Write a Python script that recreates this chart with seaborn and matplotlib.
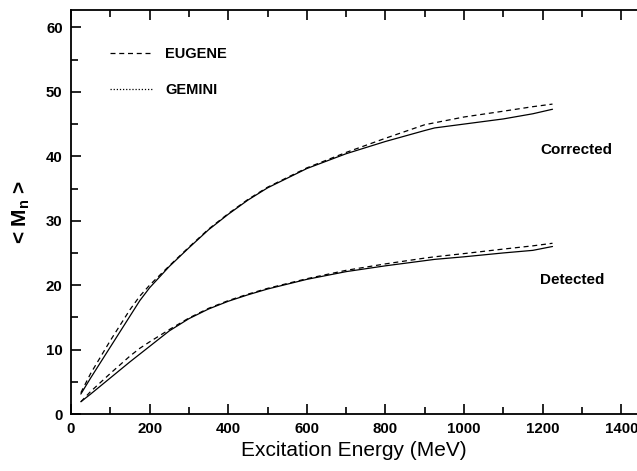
import pandas as pd
import matplotlib.pyplot as plt
import seaborn as sns
from matplotlib.lines import Line2D
from matplotlib.ticker import MultipleLocator

sns.set_theme(style="ticks")
plt.rcParams['font.family'] = ['Liberation Sans', 'DejaVu Sans']
plt.rcParams['text.color'] = 'black'
plt.rcParams['axes.labelcolor'] = 'black'

# --- dados ---
energia = [25, 50, 100, 150, 175, 200, 250, 300, 350, 400, 450, 500, 600, 700, 800, 900, 925, 1000, 1100, 1175, 1225]
corr_gemini = [3.1, 5.6, 10.4, 15.2, 17.6, 19.6, 22.9, 25.8, 28.6, 31.0, 33.2, 35.1, 38.1, 40.4, 42.3, 44.0, 44.4, 45.0, 45.8, 46.6, 47.3]
corr_eugene = [3.3, 6.3, 11.4, 16.2, 18.3, 20.0, 23.0, 25.9, 28.7, 31.1, 33.3, 35.2, 38.2, 40.6, 42.8, 44.9, 45.2, 46.1, 47.0, 47.7, 48.1]
det_gemini = [1.9, 3.1, 5.6, 8.1, 9.3, 10.5, 12.9, 14.8, 16.3, 17.5, 18.5, 19.4, 20.9, 22.1, 23.0, 23.8, 24.0, 24.4, 25.0, 25.4, 26.0]
det_eugene = [1.9, 3.5, 6.3, 9.0, 10.2, 11.2, 13.1, 14.9, 16.4, 17.6, 18.6, 19.5, 21.0, 22.3, 23.3, 24.2, 24.4, 24.9, 25.6, 26.1, 26.5]

df = pd.DataFrame({'E': energia, 'corr_gemini': corr_gemini, 'corr_eugene': corr_eugene,
                   'det_gemini': det_gemini, 'det_eugene': det_eugene})

fig = plt.figure(figsize=(6.37, 4.71), dpi=100)
ax = fig.add_axes([0.1115, 0.121, 0.8885, 0.8577])

for col in ['corr_gemini', 'det_gemini']:
    sns.lineplot(data=df, x='E', y=col, ax=ax, color='black', linewidth=0.9)
for col in ['corr_eugene', 'det_eugene']:
    sns.lineplot(data=df, x='E', y=col, ax=ax, color='black', linewidth=0.9, linestyle=(0, (4, 3)))

ax.set_xlim(0, 1440)
ax.set_ylim(0, 62.7)
ax.xaxis.set_major_locator(MultipleLocator(200))
ax.xaxis.set_minor_locator(MultipleLocator(100))
ax.yaxis.set_major_locator(MultipleLocator(10))
ax.yaxis.set_minor_locator(MultipleLocator(5))
ax.tick_params(which='both', direction='in', top=True, right=False, width=1.2, colors='black',
               labelsize=10.8, pad=6)
ax.tick_params(which='major', length=7)
ax.tick_params(which='minor', length=5)
for lab in ax.get_xticklabels() + ax.get_yticklabels():
    lab.set_fontweight('bold')
for s in ['left', 'bottom', 'top']:
    ax.spines[s].set_linewidth(1.3)
    ax.spines[s].set_color('black')
ax.spines['right'].set_visible(False)

ax.set_xlabel('Excitation Energy (MeV)', fontsize=15, labelpad=3)
ax.set_ylabel(r'< M$_\mathregular{n}$ >', fontsize=15, labelpad=10, fontweight='bold')

ax.text(1193, 41.0, 'Corrected', fontsize=11, va='center', fontweight='bold')
ax.text(1193, 20.8, 'Detected', fontsize=11, va='center', fontweight='bold')

handles = [Line2D([], [], color='black', lw=0.9, linestyle=(0, (4, 3))),
           Line2D([], [], color='black', lw=0.9, linestyle=(0, (1, 1.5)))]
ax.legend(handles, ['EUGENE', 'GEMINI'], loc='upper left', bbox_to_anchor=(0.045, 0.94),
          frameon=False, handlelength=3.0, labelspacing=1.5, handletextpad=0.8,
          prop={'size': 10.5, 'weight': 'bold'})

plt.savefig('out.png', dpi=100)
